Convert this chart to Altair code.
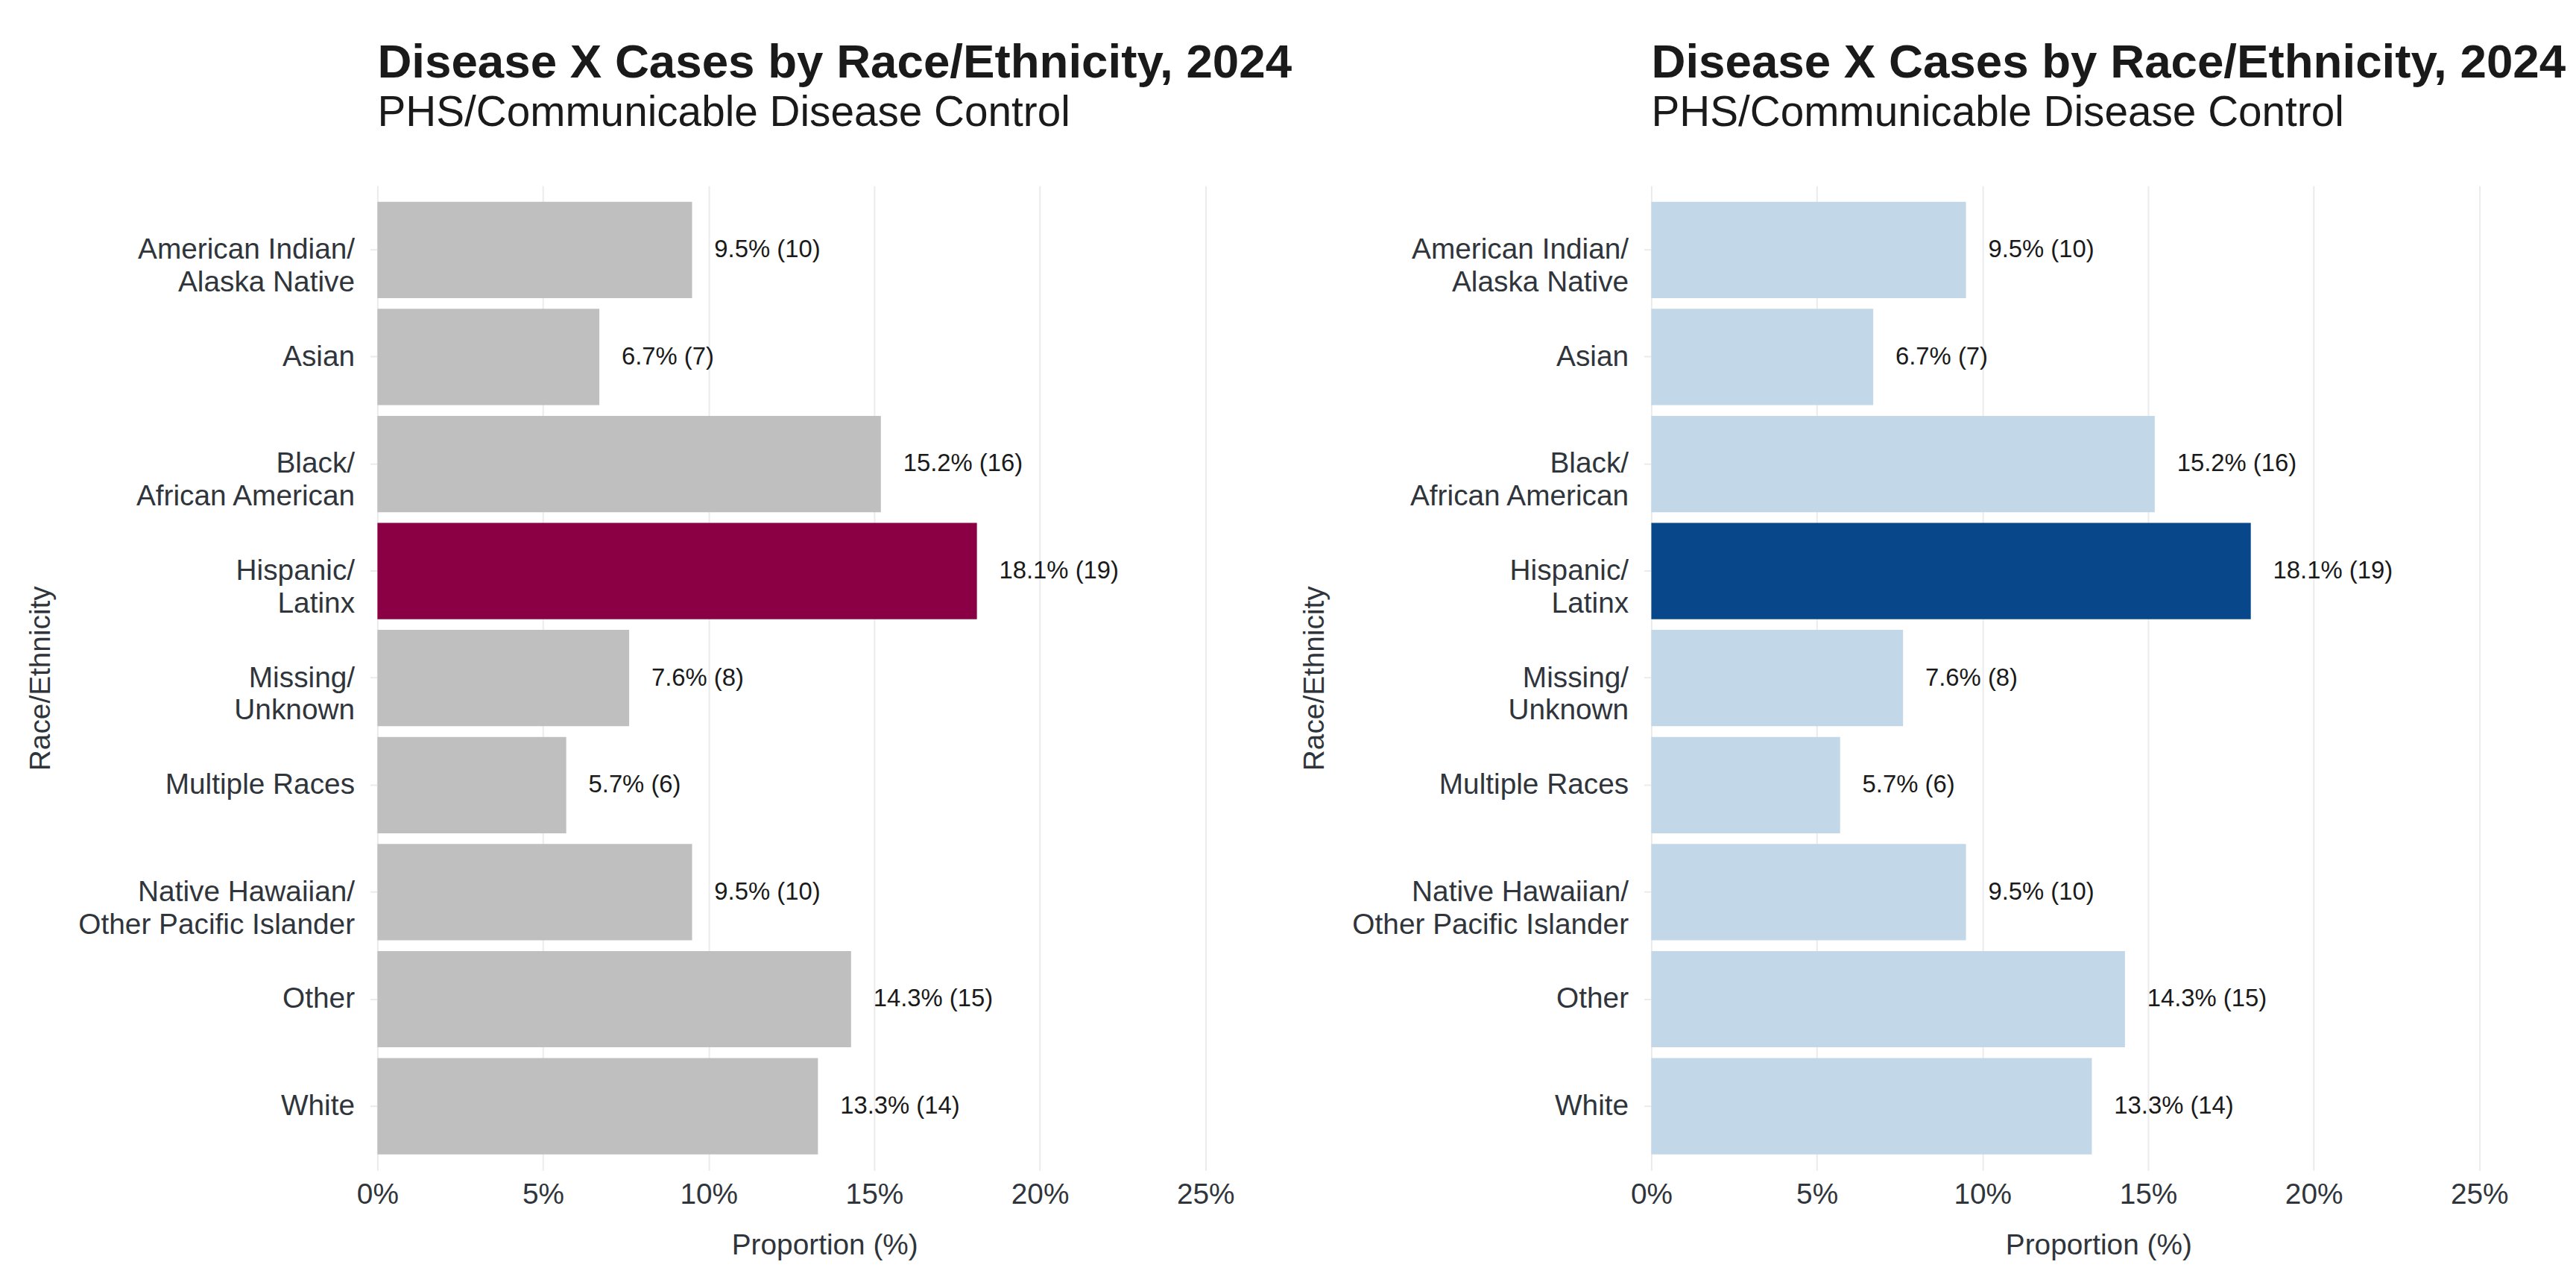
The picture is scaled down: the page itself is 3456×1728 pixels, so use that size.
import altair as alt
import pandas as pd

FONT = "Liberation Sans"

categories = [
    "American Indian/\nAlaska Native",
    "Asian",
    "Black/\nAfrican American",
    "Hispanic/\nLatinx",
    "Missing/\nUnknown",
    "Multiple Races",
    "Native Hawaiian/\nOther Pacific Islander",
    "Other",
    "White",
]
percents = [9.5, 6.7, 15.2, 18.1, 7.6, 5.7, 9.5, 14.3, 13.3]
counts = [10, 7, 16, 19, 8, 6, 10, 15, 14]
highlight = "Hispanic/\nLatinx"
x_ticks = [0, 5, 10, 15, 20, 25]

title_text = "Disease X Cases by Race/Ethnicity, 2024"
subtitle_text = "PHS/Communicable Disease Control"

df = pd.DataFrame({"cat": categories, "pct": percents, "n": counts})
df["label"] = [f"{p:.1f}% ({n})" for p, n in zip(percents, counts)]
df["hl"] = df["cat"] == highlight

H = 1328


def panel(base_color, hl_color):
    base = alt.Chart(df).encode(
        y=alt.Y(
            "cat:N",
            sort=categories,
            scale=alt.Scale(paddingInner=0.1, paddingOuter=0.15),
            axis=alt.Axis(
                title="Race/Ethnicity",
                labelExpr="split(datum.label, '\\n')",
                titleX=-442,
                titleY=H / 2,
                titleAngle=270,
                titleAlign="center",
                titleBaseline="alphabetic",
            ),
        )
    )
    xenc = alt.X(
        "pct:Q",
        scale=alt.Scale(domain=[0, 27], nice=False, zero=True),
        axis=alt.Axis(values=x_ticks, labelExpr="datum.value + '%'", title="Proportion (%)"),
    )
    bars = base.mark_bar().encode(
        x=xenc,
        color=alt.condition("datum.hl", alt.value(hl_color), alt.value(base_color)),
    )
    text = base.mark_text(
        align="left", baseline="middle", dx=30, fontSize=33, color="#1a1a1a", font=FONT
    ).encode(x="pct:Q", text="label:N")
    return alt.layer(bars, text).properties(
        width=1206,
        height=H,
        title=alt.TitleParams(
            text=title_text,
            subtitle=subtitle_text,
            anchor="start",
            frame="group",
            font=FONT,
            fontSize=64,
            fontWeight="bold",
            color="#1a1a1a",
            subtitleFont=FONT,
            subtitleFontSize=57,
            subtitleColor="#1a1a1a",
            subtitlePadding=7,
            offset=70,
        ),
    )


left = panel("#BFBFBF", "#8B0045")
right = panel("#C2D7E8", "#08478A")

chart = (
    alt.hconcat(left, right, spacing=512, bounds="flush")
    .properties(padding={"left": 28, "top": 41, "right": 5, "bottom": 5})
    .configure_view(stroke=None)
    .configure_axis(
        labelFont=FONT,
        titleFont=FONT,
        labelFontSize=39,
        titleFontSize=39,
        titleFontWeight="normal",
        labelColor="#30353B",
        titleColor="#30353B",
        labelLimit=1000,
        labelFlush=False,
        labelOverlap=False,
        domain=False,
        gridColor="#EBEBEB",
        gridWidth=2,
    )
    .configure_axisX(ticks=False, tickSize=0, grid=True, labelPadding=13, titlePadding=30)
    .configure_axisY(
        grid=False,
        ticks=True,
        tickSize=10,
        tickWidth=2,
        tickColor="#EBEBEB",
        labelPadding=21,
        labelLineHeight=44,
    )
)

chart.save("out.html", embed_options={"renderer": "svg", "actions": False})
